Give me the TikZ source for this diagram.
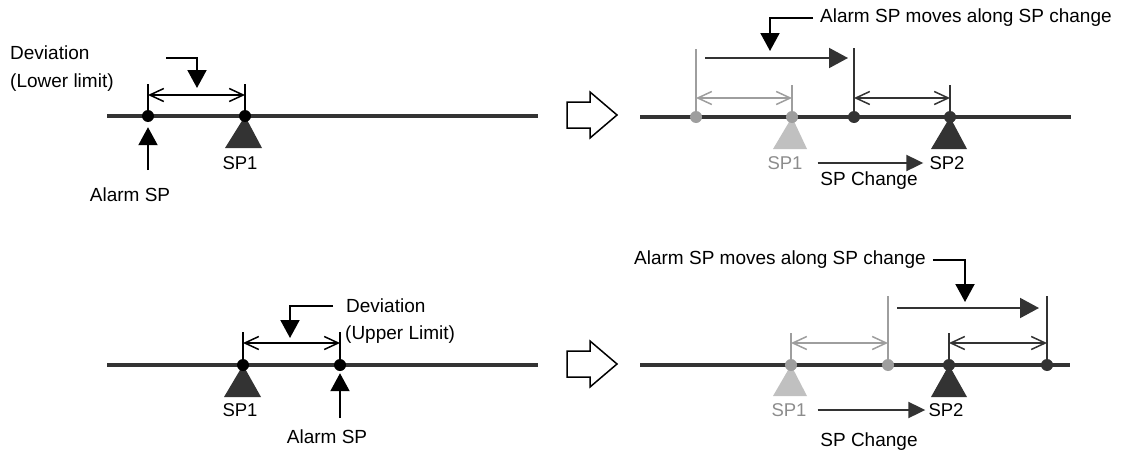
\documentclass[tikz,border=0pt]{standalone}
\usepackage{fontspec}
\setmainfont{Liberation Sans}
\usetikzlibrary{arrows.meta}
\definecolor{lineg}{RGB}{51,51,51}
\definecolor{oldg}{RGB}{158,158,158}
\definecolor{oldtri}{RGB}{192,192,192}
\definecolor{oldtxt}{RGB}{140,140,140}
\tikzset{
  axis/.style={line width=4pt,draw=lineg},
  spdot/.style={circle,fill=#1,inner sep=0pt,minimum size=12pt},
  spdot/.default=black,
  tick/.style={line width=1.5pt,draw=#1},
  tick/.default=black,
  dim/.style={line width=1.5pt,draw=#1,
    {Straight Barb[length=14pt,width=13pt]}-{Straight Barb[length=14pt,width=13pt]}},
  dim/.default=black,
  callout/.style={line width=2pt,-{Triangle[length=18pt,width=19pt]}},
  move/.style={line width=2pt,draw=lineg,-{Triangle[length=19pt,width=20pt]}},
  chg/.style={line width=2pt,draw=lineg,-{Triangle[length=17pt,width=16pt]}},
  blk/.style={line width=1.5pt,line join=miter},
  lbl/.style={font=\fontsize{19}{23}\selectfont,inner sep=0pt},
  splbl/.style={font=\fontsize{18.5}{22}\selectfont,inner sep=0pt}
}
\begin{document}
\begin{tikzpicture}[x=1pt,y=-1pt]
\useasboundingbox (0,0) rectangle (1122,455);

\draw[axis] (107,116) -- (538,116);
\fill[lineg] (245,116) -- (225,148) -- (262,148) -- cycle;
\node[spdot] (al1) at (148,116) {};
\node[spdot] (sp1) at (245,116) {};
\draw[tick] (al1.center) -- ++(0,-32);
\draw[tick] (sp1.center) -- ++(0,-32);
\coordinate (y1d) at (0,95);
\draw[dim] (al1 |- y1d) -- (sp1 |- y1d);
\coordinate (c1s) at (166,58);
\coordinate (c1e) at (197,88);
\draw[callout] (c1s) -| (c1e);
\node[lbl,anchor=west] (dev1) at (10,53) {Deviation};
\node[lbl,anchor=west] (lim1) at (10,83) {(Lower limit)};
\node[splbl] (t1s) at (240,163) {SP1};
\node[lbl] (t1a) at (130,195) {Alarm SP};
\coordinate (al1b) at (148,170);
\draw[callout,shorten >=5pt] (al1b) -- (al1.south);

\draw[blk] (567,102) -- (590,102) -- (590,92) -- (617,115) -- (590,138) -- (590,128) -- (567,128) -- cycle;

\draw[axis] (640,117) -- (1071,117);
\fill[oldtri] (792,117) -- (773,149) -- (807,149) -- cycle;
\fill[lineg] (950,117) -- (931,149) -- (967,149) -- cycle;
\node[spdot=oldg] (g21) at (696,117) {};
\node[spdot=oldg] (g22) at (792,117) {};
\node[spdot=lineg] (d21) at (854,117) {};
\node[spdot=lineg] (d22) at (950,117) {};
\draw[tick=oldg] (g21.center) -- ++(0,-68);
\draw[tick=oldg] (g22.center) -- ++(0,-32);
\draw[tick=lineg] (d21.center) -- ++(0,-69);
\draw[tick=lineg] (d22.center) -- ++(0,-32);
\coordinate (y2d) at (0,98);
\draw[dim=oldg] (g21 |- y2d) -- (g22 |- y2d);
\draw[dim=lineg] (d21 |- y2d) -- (d22 |- y2d);
\coordinate (y2m) at (0,58);
\draw[move,shorten <=9pt,shorten >=6pt] (g21 |- y2m) -- (d21 |- y2m);
\node[lbl,anchor=west] (t2m) at (820,18) {Alarm SP moves along SP change};
\coordinate (c2e) at (770,51);
\draw[callout] ([xshift=-7pt]t2m.west) -| (c2e);
\node[splbl,text=oldtxt] (t2a) at (785,163) {SP1};
\node[splbl] (t2b) at (947,163) {SP2};
\draw[chg,shorten <=15pt,shorten >=6pt] (t2a.east) -- (t2b.west);
\node[lbl] (t2c) at (869,181) {SP Change};

\draw[axis] (107,365) -- (538,365);
\fill[lineg] (243,365) -- (224,397) -- (261,397) -- cycle;
\node[spdot] (sp3) at (243,365) {};
\node[spdot] (al3) at (340,365) {};
\draw[tick] (sp3.center) -- ++(0,-33);
\draw[tick] (al3.center) -- ++(0,-33);
\coordinate (y3d) at (0,343);
\draw[dim] (sp3 |- y3d) -- (al3 |- y3d);
\node[lbl,anchor=west] (dev3) at (346,306) {Deviation};
\node[lbl,anchor=west] (lim3) at (345,335) {(Upper Limit)};
\coordinate (c3e) at (290,338);
\draw[callout] ([xshift=-13pt]dev3.west) -| (c3e);
\node[splbl] (t3s) at (240,410) {SP1};
\node[lbl] (t3a) at (327,437) {Alarm SP};
\coordinate (al3b) at (340,418);
\draw[callout,shorten >=2pt] (al3b) -- (al3.south);

\draw[blk] (567,351) -- (590,351) -- (590,341) -- (617,364) -- (590,387) -- (590,377) -- (567,377) -- cycle;

\draw[axis] (640,365) -- (1070,365);
\fill[oldtri] (791,365) -- (773,396) -- (807,396) -- cycle;
\fill[lineg] (949,365) -- (931,397) -- (967,397) -- cycle;
\node[spdot=oldg] (g41) at (791,365) {};
\node[spdot=oldg] (g42) at (888,365) {};
\node[spdot=lineg] (d41) at (949,365) {};
\node[spdot=lineg] (d42) at (1047,365) {};
\draw[tick=oldg] (g41.center) -- ++(0,-32);
\draw[tick=oldg] (g42.center) -- ++(0,-69);
\draw[tick=lineg] (d41.center) -- ++(0,-32);
\draw[tick=lineg] (d42.center) -- ++(0,-69);
\coordinate (y4d) at (0,343);
\draw[dim=oldg] (g41 |- y4d) -- (g42 |- y4d);
\draw[dim=lineg] (d41 |- y4d) -- (d42 |- y4d);
\coordinate (y4m) at (0,308);
\draw[move,shorten <=9pt,shorten >=8pt] (g42 |- y4m) -- (d42 |- y4m);
\node[lbl,anchor=west] (t4m) at (634,260) {Alarm SP moves along SP change};
\coordinate (c4e) at (965,302);
\draw[callout] ([xshift=7pt]t4m.east) -| (c4e);
\node[splbl,text=oldtxt] (t4a) at (789,410) {SP1};
\node[splbl] (t4b) at (946,410) {SP2};
\draw[chg,shorten <=11pt,shorten >=3pt] (t4a.east) -- (t4b.west);
\node[lbl] (t4c) at (869,442) {SP Change};
\end{tikzpicture}
\end{document}
